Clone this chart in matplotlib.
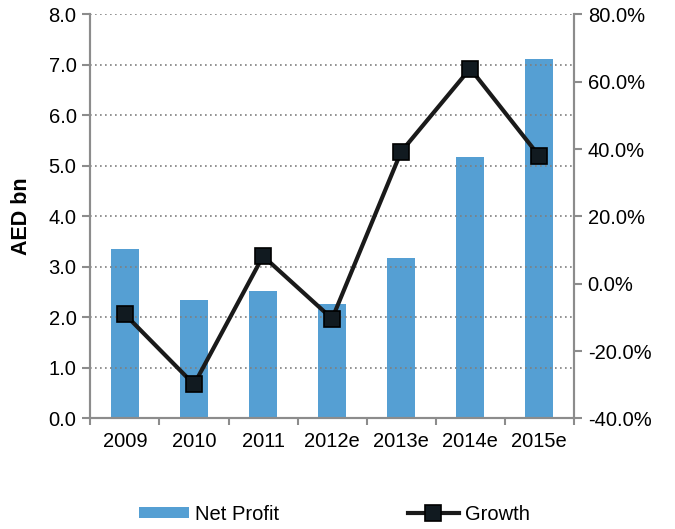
import numpy as np
import matplotlib.pyplot as plt
from matplotlib.ticker import FuncFormatter

plt.rcParams['font.family'] = ['Liberation Sans', 'DejaVu Sans']

# 데이터
years = ['2009', '2010', '2011', '2012e', '2013e', '2014e', '2015e']
net_profit = [3.35, 2.34, 2.52, 2.26, 3.17, 5.17, 7.12]
growth = [-9.1, -29.9, 8.2, -10.4, 39.2, 63.9, 37.9]

bar_color = '#559FD3'
axis_gray = '#8c8c8c'
fs = 14.5

fig = plt.figure(figsize=(6.75, 5.29), dpi=100)
ax = fig.add_axes([0.134, 0.209, 0.716, 0.764])
ax2 = ax.twinx()

x = np.arange(len(years))
ax.bar(x, net_profit, width=0.4, color=bar_color, zorder=1, label='Net Profit')
ax2.plot(x, growth, color='#1a1a1a', linewidth=3.0, marker='s', markersize=11,
         markerfacecolor='#111a20', markeredgecolor='black', markeredgewidth=1.2,
         label='Growth')

# 축 범위
ax.set_xlim(-0.5, len(years) - 0.5)
ax.set_ylim(0, 8)
ax2.set_ylim(-40, 80)
ax.set_yticks(np.arange(0, 8.1, 1))
ax2.set_yticks(np.arange(-40, 81, 20))
ax.yaxis.set_major_formatter(FuncFormatter(lambda v, p: f'{v:.1f}'))
ax2.yaxis.set_major_formatter(FuncFormatter(lambda v, p: f'{v:.1f}%'))

ax.set_xticks(x)
ax.set_xticklabels(years)
ax.set_xticks(np.arange(-0.5, len(years)), minor=True)
ax.tick_params(axis='x', which='major', length=0, pad=10, labelsize=fs)
ax.tick_params(axis='x', which='minor', length=5, color=axis_gray, width=1.5)
ax.tick_params(axis='y', length=6, color=axis_gray, width=1.5, labelsize=fs, pad=4)
ax2.tick_params(axis='y', length=6, color=axis_gray, width=1.5, labelsize=fs, pad=4)

# 그리드 (막대 위에 점선)
ax.set_axisbelow(False)
ax.grid(axis='y', linestyle=(0, (1, 2)), color='#7f7f7f', linewidth=1.2)
ax.grid(axis='x', visible=False)

for a in (ax, ax2):
    a.spines['top'].set_visible(False)
    for s in ('left', 'right', 'bottom'):
        a.spines[s].set_color(axis_gray)
        a.spines[s].set_linewidth(1.5)

ax.set_ylabel('AED bn', fontsize=15.5, fontweight='bold')
ax.yaxis.set_label_coords(-0.120, 0.5)

h1, l1 = ax.get_legend_handles_labels()
h2, l2 = ax2.get_legend_handles_labels()
fig.legend(h1 + h2, l1 + l2, loc='center', bbox_to_anchor=(0.495, 0.028), ncol=2,
           frameon=False, fontsize=fs, handlelength=2.5, handleheight=0.5,
           handletextpad=0.3, columnspacing=6.4)

fig.savefig('out.png', dpi=100)
